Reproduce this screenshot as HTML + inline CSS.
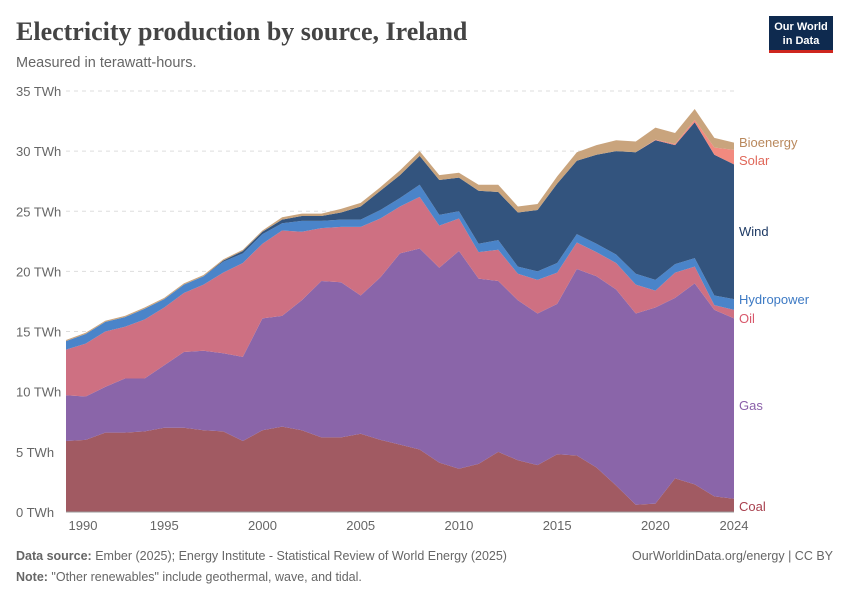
<!DOCTYPE html>
<html><head><meta charset="utf-8">
<style>
body{margin:0;background:#fff;font-family:"Liberation Sans",sans-serif;}
#wrap{position:relative;width:850px;height:600px;overflow:hidden;}
</style></head>
<body>
<div id="wrap">
<svg id="svg" width="850" height="600" xmlns="http://www.w3.org/2000/svg">
<text x="16" y="40" font-family="Liberation Serif,serif" font-size="26" font-weight="bold" fill="#444">Electricity production by source, Ireland</text>
<text x="16" y="67" font-size="14.5" fill="#666">Measured in terawatt-hours.</text>
<g>
<rect x="769" y="16" width="64" height="34" fill="#0e2a4f"/>
<rect x="769" y="50" width="64" height="3" fill="#ce261e"/>
<text x="801" y="30" font-size="11" font-weight="bold" fill="#fff" text-anchor="middle">Our World</text>
<text x="801" y="44" font-size="11" font-weight="bold" fill="#fff" text-anchor="middle">in Data</text>
</g>
<g id="grid"></g><g id="areas"></g><g id="axes"></g><g id="labels"></g>
<text x="16" y="560" font-size="12.5" fill="#666"><tspan font-weight="bold">Data source:</tspan> Ember (2025); Energy Institute - Statistical Review of World Energy (2025)</text>
<text x="833" y="560" font-size="12.5" fill="#666" text-anchor="end">OurWorldinData.org/energy | CC BY</text>
<text x="16" y="581" font-size="12.5" fill="#666"><tspan font-weight="bold">Note:</tspan> "Other renewables" include geothermal, wave, and tidal.</text>
</svg>
</div>
<script>
const years=[1990,1991,1992,1993,1994,1995,1996,1997,1998,1999,2000,2001,2002,2003,2004,2005,2006,2007,2008,2009,2010,2011,2012,2013,2014,2015,2016,2017,2018,2019,2020,2021,2022,2023,2024];
const coal=[5.9,6.0,6.6,6.6,6.7,7.0,7.0,6.8,6.7,5.9,6.8,7.1,6.8,6.2,6.2,6.5,6.0,5.6,5.2,4.1,3.6,4.0,5.0,4.3,3.9,4.8,4.7,3.7,2.2,0.6,0.7,2.8,2.3,1.3,1.1];
const gas=[3.8,3.6,3.8,4.5,4.4,5.2,6.3,6.6,6.5,7.0,9.3,9.2,10.8,13.0,12.9,11.5,13.5,15.9,16.7,16.2,18.1,15.4,14.2,13.3,12.6,12.5,15.5,15.9,16.3,15.9,16.3,15.0,16.7,15.5,15.0];
const oil=[3.8,4.4,4.6,4.3,4.9,4.8,4.9,5.5,6.7,7.8,6.2,7.1,5.7,4.4,4.6,5.7,4.9,3.9,4.3,3.5,2.7,2.2,2.6,2.2,2.8,2.6,2.2,2.0,2.2,2.4,1.4,2.1,1.4,0.4,0.7];
const hydro=[0.7,0.8,0.8,0.8,0.9,0.7,0.7,0.7,0.9,0.8,0.8,0.6,0.9,0.6,0.6,0.6,0.7,0.7,1.0,0.9,0.6,0.7,0.8,0.6,0.7,0.8,0.7,0.7,0.7,0.9,0.9,0.7,0.7,0.8,0.9];
const wind=[0,0,0,0,0,0,0,0,0.1,0.2,0.2,0.3,0.4,0.4,0.6,1.1,1.6,1.9,2.4,2.9,2.8,4.4,4.0,4.5,5.1,6.6,6.1,7.4,8.6,10.1,11.6,9.9,11.3,11.7,11.2];
const solar=[0,0,0,0,0,0,0,0,0,0,0,0,0,0,0,0,0,0,0,0,0,0,0,0,0,0,0,0,0,0,0.05,0.1,0.2,0.6,1.2];
const bio=[0.1,0.1,0.1,0.1,0.1,0.1,0.1,0.1,0.1,0.1,0.1,0.2,0.2,0.2,0.3,0.3,0.3,0.4,0.4,0.4,0.4,0.5,0.6,0.5,0.5,0.6,0.7,0.8,0.9,0.9,1.0,0.9,0.9,0.8,0.6];
const seriesNames=["Coal","Gas","Oil","Hydropower","Wind","Solar","Bioenergy"];
const yTicks=[0,5,10,15,20,25,30,35];
const xTicks=[1990,1995,2000,2005,2010,2015,2020,2024];
const NS="http://www.w3.org/2000/svg";
const X=y=>66+(y-1990)*(734-66)/34;
const Y=v=>512-v*12.03;
const series=[coal,gas,oil,hydro,wind,solar,bio];
const fills=["#a15a62","#8a65a9","#ce7082","#4a84c9","#33547e","#f28a7f","#c9a47d"];
const lblCol=["#a8404e","#8a5fa9","#d8586b","#3d7ac4","#1e3a64","#e0685a","#b9885c"];
function el(t,a,p){const e=document.createElementNS(NS,t);for(const k in a)e.setAttribute(k,a[k]);document.getElementById(p).appendChild(e);return e;}
yTicks.forEach(v=>{
 if(v>0){const l=el('line',{x1:66,x2:734,y1:Y(v),y2:Y(v),stroke:'#ddd','stroke-dasharray':'4,4'},'grid');
 
 }
 const t=el('text',{x:16,y:Y(v)+5,'font-size':13,fill:'#666'},'axes');t.textContent=v+' TWh';
 
 
});
const base=years.map(()=>0);
series.forEach((s,i)=>{
 const top=base.map((b,j)=>b+s[j]);
 let d='M'+years.map((y,j)=>X(y)+','+Y(top[j])).join('L');
 for(let j=years.length-1;j>=0;j--)d+='L'+X(years[j])+','+Y(base[j]);
 const p=el('path',{d:d+'Z',fill:fills[i]},'areas');
 
 
 top.forEach((v,j)=>base[j]=v);
});
const ax=el('line',{x1:66,x2:734,y1:512,y2:512,stroke:'#999'},'axes');


xTicks.forEach(y=>{
 const t=el('text',{x:y===1990?83:X(y),y:530,'font-size':13,fill:'#666','text-anchor':'middle'},'axes');t.textContent=y;
 
 
});
const ly=[511,410,323,304,236,165,147];
seriesNames.forEach((n,i)=>{
 const t=el('text',{x:739,y:ly[i],'font-size':13,fill:lblCol[i]},'labels');t.textContent=n;
 
 
});
</script>
</body></html>
